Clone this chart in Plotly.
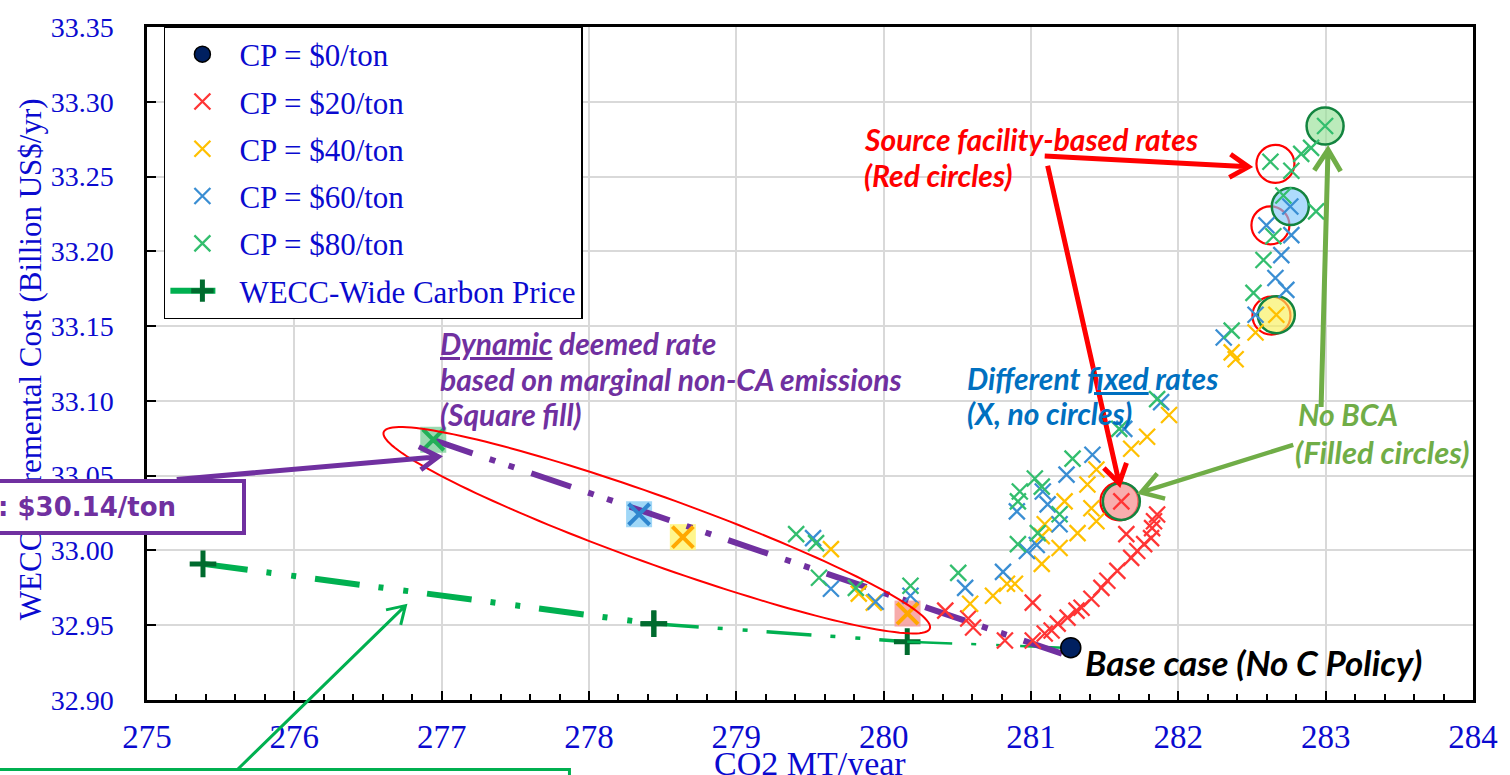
import numpy as np
import plotly.graph_objects as go

# ---------------------------------------------------------------- axes
X_RANGE = [275, 284]
Y_RANGE = [32.90, 33.35]
X_TICKS = [275, 276, 277, 278, 279, 280, 281, 282, 283, 284]
Y_TICKS = [32.90, 32.95, 33.00, 33.05, 33.10, 33.15, 33.20, 33.25, 33.30, 33.35]

# ---------------------------------------------------------------- data
BASE_CO2 = [281.27]
BASE_COST = [32.935]

CP20_CO2 = [281.856, 281.835, 281.822, 281.815, 281.768, 281.721, 281.680, 281.647,
            281.586, 281.518, 281.478, 281.410, 281.343, 281.309, 281.248, 281.181,
            281.140, 281.093, 281.012, 281.012, 280.823, 280.418, 280.574, 280.607,
            281.613]
CP20_COST = [33.0240, 33.0195, 33.0149, 33.0082, 33.0042, 32.9996, 32.9950, 33.0109,
             32.9863, 32.9797, 32.9750, 32.9677, 32.9617, 32.9598, 32.9551, 32.9511,
             32.9465, 32.9445, 32.9651, 32.9398, 32.9398, 32.9598, 32.9545, 32.9485,
             33.0328]

CP40_CO2 = [281.937, 281.788, 281.680, 281.444, 281.383, 281.228, 281.410, 281.444,
            281.316, 281.093, 281.073, 281.194, 281.073, 280.891, 280.837, 280.742,
            280.587, 279.642, 279.831, 279.933, 282.665, 282.524, 282.362, 282.389,
            280.162]
CP40_COST = [33.0906, 33.0760, 33.0680, 33.0541, 33.0441, 33.0328, 33.0282, 33.0195,
             33.0116, 33.0175, 33.0096, 33.0016, 32.9910, 32.9777, 32.9777, 32.9697,
             32.9644, 33.0009, 32.9711, 32.9651, 33.1576, 33.1457, 33.1324, 33.1278,
             32.9578]

CP60_CO2 = [281.883, 281.633, 281.417, 281.241, 281.080, 280.904, 281.113, 281.194,
            281.039, 280.972, 280.810, 280.553, 279.521, 279.642, 279.946, 280.182,
            282.760, 282.767, 282.699, 282.659, 282.733, 282.524, 282.308, 282.598]
CP60_COST = [33.0992, 33.0813, 33.0640, 33.0507, 33.0394, 33.0261, 33.0308, 33.0175,
             33.0036, 32.9996, 32.9857, 32.9750, 33.0082, 32.9744, 32.9657, 32.9697,
             33.2300, 33.2108, 33.1975, 33.1822, 33.1742, 33.1576, 33.1424, 33.2174]

CP80_CO2 = [281.856, 281.599, 281.282, 281.026, 280.924, 281.073, 280.911, 281.194,
            281.046, 280.911, 280.506, 279.406, 279.561, 280.182, 282.996, 282.625,
            282.834, 282.901, 282.767, 282.935, 282.645, 282.578, 282.510, 282.362,
            279.811, 279.541, 282.713]
CP80_COST = [33.1012, 33.0813, 33.0614, 33.0481, 33.0394, 33.0427, 33.0328, 33.0242,
             33.0116, 33.0042, 32.9850, 33.0109, 32.9817, 32.9764, 33.2838, 33.2599,
             33.2652, 33.2692, 33.2539, 33.2267, 33.2101, 33.1942, 33.1722, 33.1470,
             32.9750, 33.0049, 33.2373]

# dynamic deemed-rate runs ($80, $60, $40, $20)
DYN_CO2 = [276.943, 278.340, 278.637, 280.162]
DYN_COST = [33.0740, 33.0242, 33.0089, 32.9578]

# no border adjustment runs ($80, $60, $40, $20)
NOBCA_CO2 = [282.996, 282.760, 282.665, 281.613]
NOBCA_COST = [33.2838, 33.2300, 33.1576, 33.0328]

# source facility-based rate runs
SRC_CO2 = [282.659, 282.625, 282.632, 281.600]
SRC_COST = [33.2585, 33.2174, 33.1570, 33.0328]

# WECC-wide carbon price path
WECC_CO2 = [275.38, 278.44, 280.16, 281.22]
WECC_COST = [32.991, 32.951, 32.939, 32.935]

# trend through the dynamic runs
DYN_TREND_CO2 = [276.94, 281.21]
DYN_TREND_COST = [33.074, 32.931]

SERIES_NAMES = ["CP = $0/ton", "CP = $20/ton", "CP = $40/ton", "CP = $60/ton",
                "CP = $80/ton", "WECC-Wide Carbon Price"]

# ---------------------------------------------------------------- styling
FIG_W, FIG_H = 1510, 775
M_L, M_R, M_T, M_B = 147, 29, 22, 75
PLOT_W = FIG_W - M_L - M_R
PLOT_H = FIG_H - M_T - M_B

AXIS_BLUE = "#0A0ACF"
RED = "#FF3535"
YELLOW = "#FFC000"
BLUE = "#3A8ED3"
GREEN = "#33BE6E"
PURPLE = "#7030A0"
SERIF = "Liberation Serif"
CALLOUT = "Lato"


def to_px(x, y):
    px = M_L + (x - X_RANGE[0]) / (X_RANGE[1] - X_RANGE[0]) * PLOT_W
    py = M_T + (Y_RANGE[1] - y) / (Y_RANGE[1] - Y_RANGE[0]) * PLOT_H
    return px, py


def px_to_paper(px, py):
    return (px - M_L) / PLOT_W, (FIG_H - M_B - py) / PLOT_H


def arrow_shapes(tail, tip, color, width, head=22, spread=32):
    """Straight arrow with an open V head, expressed in paper coordinates."""
    tx, ty = to_px(*tail)
    hx, hy = to_px(*tip)
    d = np.array([hx - tx, hy - ty])
    d /= np.linalg.norm(d)
    pts = []
    for s in (+1, -1):
        a = np.radians(spread) * s
        r = np.array([d[0] * np.cos(a) - d[1] * np.sin(a), d[0] * np.sin(a) + d[1] * np.cos(a)])
        pts.append((hx - head * r[0], hy - head * r[1]))
    P = lambda p: px_to_paper(*p)
    t0, h0, a1, a2 = P((tx, ty)), P((hx, hy)), P(pts[0]), P(pts[1])
    path = (f"M{t0[0]},{t0[1]} L{h0[0]},{h0[1]} "
            f"M{a1[0]},{a1[1]} L{h0[0]},{h0[1]} L{a2[0]},{a2[1]}")
    return dict(type="path", xref="paper", yref="paper", path=path,
                line=dict(color=color, width=width), layer="above")


fig = go.Figure()

# dynamic deemed-rate squares
fig.add_trace(go.Scatter(
    x=DYN_CO2, y=DYN_COST, mode="markers", showlegend=False, hoverinfo="skip",
    marker=dict(symbol="square", size=26, line=dict(width=0),
                color=["rgba(120,205,150,0.75)", "rgba(135,205,245,0.8)",
                       "rgba(255,245,120,0.85)", "rgba(245,150,150,0.8)"])))

# source facility-based red circles
fig.add_trace(go.Scatter(
    x=SRC_CO2, y=SRC_COST, mode="markers", showlegend=False, hoverinfo="skip",
    marker=dict(symbol="circle-open", size=38, color="#FF0000", line=dict(width=2.2))))

# no-BCA filled circles
fig.add_trace(go.Scatter(
    x=NOBCA_CO2, y=NOBCA_COST, mode="markers", showlegend=False, hoverinfo="skip",
    marker=dict(symbol="circle", size=37,
                color=["rgba(150,225,150,0.65)", "rgba(130,200,250,0.65)",
                       "rgba(248,240,90,0.65)", "rgba(245,140,140,0.7)"],
                line=dict(color="#13843F", width=2.5))))

# WECC-wide carbon price path (line weight tapers along the path)
seg_widths = [6, 3.5, 2.5]
for i, w in enumerate(seg_widths):
    fig.add_trace(go.Scatter(
        x=WECC_CO2[i:i + 2], y=WECC_COST[i:i + 2],
        mode="lines+markers" if i < 2 else "lines",
        name=SERIES_NAMES[5], legendgroup="wecc", showlegend=(i == 0), hoverinfo="skip",
        line=dict(color="#00B050", width=w, dash="45px,19px,5px,20px,5px,19px"),
        marker=dict(symbol="cross-thin", size=19, color="#006B2E",
                    line=dict(color="#006B2E", width=5))))

# dynamic trend line
fig.add_trace(go.Scatter(
    x=DYN_TREND_CO2, y=DYN_TREND_COST, mode="lines", showlegend=False, hoverinfo="skip",
    line=dict(color=PURPLE, width=6, dash="42px,18px,6px,14px,6px,18px")))

# fixed-rate scatter series
for name, xs, ys, col, grp in [
    (SERIES_NAMES[1], CP20_CO2, CP20_COST, RED, "c20"),
    (SERIES_NAMES[2], CP40_CO2, CP40_COST, YELLOW, "c40"),
    (SERIES_NAMES[3], CP60_CO2, CP60_COST, BLUE, "c60"),
    (SERIES_NAMES[4], CP80_CO2, CP80_COST, GREEN, "c80"),
]:
    fig.add_trace(go.Scatter(
        x=xs, y=ys, mode="markers", name=name, legendgroup=grp, hoverinfo="skip",
        marker=dict(symbol="x-thin-open", size=16, color=col, line=dict(width=2.3, color=col))))

# crosses inside the dynamic squares
dyn_cross = ["#22B058", "#2F86CF", "#FFA800", "#FFA800"]
fig.add_trace(go.Scatter(
    x=DYN_CO2, y=DYN_COST, mode="markers", showlegend=False, hoverinfo="skip",
    marker=dict(symbol="x-thin-open", size=21, color=dyn_cross,
                line=dict(width=4, color=dyn_cross))))

# base case
fig.add_trace(go.Scatter(
    x=BASE_CO2, y=BASE_COST, mode="markers", name=SERIES_NAMES[0], legendgroup="c0",
    hoverinfo="skip",
    marker=dict(symbol="circle", size=20, color="#002060", line=dict(color="black", width=1.5))))

# legend order: base case first, then the price levels, then the WECC path
order = {"c0": 1, "c20": 2, "c40": 3, "c60": 4, "c80": 5, "wecc": 6}
for tr in fig.data:
    if tr.legendgroup in order:
        tr.legendrank = order[tr.legendgroup]

# ---------------------------------------------------------------- shapes
shapes = []

# ellipse around the dynamic runs
ELL_CENTER = (278.46, 33.0135)
ell_a, ell_b, ell_rot = 292, 34, np.radians(19.8)
cx, cy = to_px(*ELL_CENTER)
t = np.linspace(0, 2 * np.pi, 160)
ex = cx + ell_a * np.cos(t) * np.cos(ell_rot) - ell_b * np.sin(t) * np.sin(ell_rot)
ey = cy + ell_a * np.cos(t) * np.sin(ell_rot) + ell_b * np.sin(t) * np.cos(ell_rot)
pp = [px_to_paper(a, b) for a, b in zip(ex, ey)]
shapes.append(dict(type="path", xref="paper", yref="paper", layer="above",
                   path="M" + " L".join(f"{a},{b}" for a, b in pp) + " Z",
                   line=dict(color="#FF0000", width=2)))

# callout arrows (tail, tip)
shapes.append(arrow_shapes((281.093, 33.2638), (282.476, 33.2565), "#FF0000", 5))
shapes.append(arrow_shapes((281.113, 33.2572), (281.599, 33.0448), "#FF0000", 5))
shapes.append(arrow_shapes((282.969, 33.0959), (283.016, 33.2679), "#70AD47", 5, head=25))
shapes.append(arrow_shapes((282.780, 33.0706), (281.747, 33.0388), "#70AD47", 4.5, head=25))
shapes.append(arrow_shapes((275.202, 33.0474), (276.977, 33.0627), PURPLE, 5))
shapes.append(arrow_shapes((275.614, 32.8535), (276.754, 32.9631), "#00B050", 3, head=20))

# partial green callout frame along the bottom edge
gx0, gy0 = px_to_paper(-20, 770)
gx1, gy1 = px_to_paper(572, 770)
gx2, gy2 = px_to_paper(572, 800)
shapes.append(dict(type="path", xref="paper", yref="paper", layer="above",
                   path=f"M{gx0},{gy0} L{gx1},{gy1} L{gx2},{gy2}",
                   line=dict(color="#00B050", width=3)))

# ---------------------------------------------------------------- annotations
ann = []
ytx, yty = px_to_paper(30, 357)
ann.append(dict(xref="paper", yref="paper", x=ytx, y=yty, xanchor="center", yanchor="middle",
                showarrow=False, textangle=-90,
                text="WECC Incremental Cost (Billion US$/yr)",
                font=dict(family=SERIF, size=31, color=AXIS_BLUE)))
xtx, xty = px_to_paper(814, 764)
ann.append(dict(xref="paper", yref="paper", x=xtx, y=xty, xanchor="center", yanchor="middle",
                showarrow=False, text="CO2 MT/year",
                font=dict(family=SERIF, size=34, color=AXIS_BLUE)))

CALLOUT_TEXT = [
    ("Source facility-based rates", 279.852, 33.2751, "#FF0000", 30),
    ("(Red circles)", 279.852, 33.2512, "#FF0000", 30),
    ("<u>Dynamic</u> deemed rate", 276.977, 33.1390, PURPLE, 30),
    ("based on marginal non-CA emissions", 276.977, 33.1145, PURPLE, 30),
    ("(Square fill)", 276.977, 33.0912, PURPLE, 30),
    ("Different <u>fixed</u> rates", 280.553, 33.1151, "#0070C0", 30),
    ("(X, no circles)", 280.553, 33.0919, "#0070C0", 30),
    ("No BCA", 282.800, 33.0912, "#70AD47", 30),
    ("(Filled circles)", 282.780, 33.0660, "#70AD47", 31),
    ("Base case (No C Policy)", 281.350, 32.9252, "black", 35),
]
for txt, x, y, col, sz in CALLOUT_TEXT:
    ann.append(dict(xref="x", yref="y", x=x, y=y, xanchor="left", yanchor="middle",
                    showarrow=False, text=f"<b><i>{txt}</i></b>",
                    font=dict(family=CALLOUT, size=sz, color=col)))

# price-equivalent box at the left edge
bx, by = px_to_paper(247, 506)
ann.append(dict(xref="paper", yref="paper", x=bx, y=by, xanchor="right", yanchor="middle",
                showarrow=False, text="<b>: $30.14/ton</b>", align="left", width=240,
                height=40, bgcolor="white", bordercolor=PURPLE, borderwidth=4, borderpad=4,
                font=dict(family="DejaVu Sans", size=26, color=PURPLE)))

# ---------------------------------------------------------------- layout
lx, ly = px_to_paper(164, 21)
axis_common = dict(showgrid=True, gridcolor="#D9D9D9", gridwidth=1.5, showline=True,
                   linecolor="black", linewidth=2.5, mirror=True, ticks="inside",
                   tickcolor="black", zeroline=False)
fig.update_layout(
    width=FIG_W, height=FIG_H,
    margin=dict(l=M_L, r=M_R, t=M_T, b=M_B),
    paper_bgcolor="white", plot_bgcolor="white",
    xaxis=dict(range=X_RANGE, tickvals=X_TICKS, ticklen=9, tickwidth=2,
               ticklabelstandoff=6,
               tickfont=dict(family=SERIF, size=33, color=AXIS_BLUE),
               minor=dict(dtick=0.2, ticks="inside", ticklen=6, tickcolor="black",
                          showgrid=False),
               **axis_common),
    yaxis=dict(range=Y_RANGE, tickvals=Y_TICKS, tickformat=".2f", ticklen=9, tickwidth=2,
               ticklabelstandoff=25,
               tickfont=dict(family=SERIF, size=28, color=AXIS_BLUE), **axis_common),
    legend=dict(x=lx, y=ly, xanchor="left", yanchor="top", bgcolor="white",
                bordercolor="black", borderwidth=1.5, tracegroupgap=4, itemwidth=64,
                font=dict(family=SERIF, size=31, color=AXIS_BLUE)),
    shapes=shapes, annotations=ann, showlegend=True,
)

fig.write_html("out.html")
